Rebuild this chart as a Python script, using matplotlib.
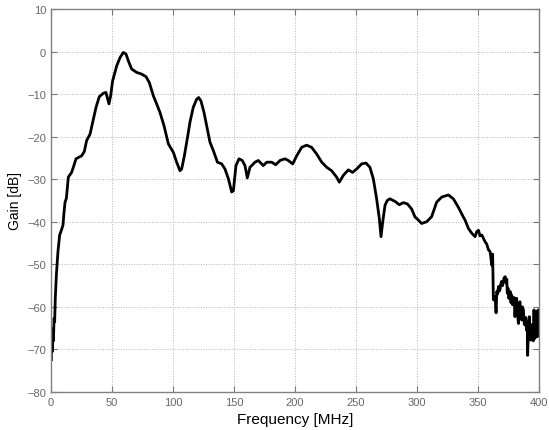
import matplotlib
matplotlib.use("Agg")
import matplotlib.pyplot as plt

freq_mhz = [0.3, 0.3, 1.0, 1.6, 2.0, 2.5, 3.0, 3.5, 4.4, 5.7, 7.1, 8.5, 9.8, 10.7, 11.5, 12.6,
            14.2, 16.9, 18.3, 20.5, 25.1, 27.3, 29.2, 32.0, 34.7, 36.9, 39.6, 42.9, 45.0,
            47.5, 48.9, 50.5, 53.8, 56.6, 59.3, 61.5, 63.4, 66.1, 70.2, 74.3, 77.9, 80.6,
            83.9, 86.6, 89.3, 92.6, 96.2, 100.3, 103.0, 105.7, 107.1, 109.3, 111.7, 113.9,
            116.6, 119.4, 121.0, 122.9, 125.4, 127.6, 130.3, 133.1, 136.4, 139.9, 142.6,
            145.4, 148.1, 149.5, 151.6, 154.1, 156.8, 159.0, 160.9, 163.1, 167.2, 169.9,
            174.0, 176.8, 180.9, 184.2, 187.7, 191.8, 194.5, 198.1, 201.4, 205.5, 209.5,
            213.6, 217.8, 221.9, 226.0, 230.0, 234.1, 236.3, 239.6, 243.7, 247.2, 250.5,
            254.6, 258.2, 261.4, 264.2, 266.9, 269.1, 270.5, 271.9, 273.8, 275.6, 277.8,
            281.9, 285.5, 288.8, 292.1, 295.6, 298.4, 299.7, 303.8, 307.9, 312.0, 316.1,
            320.2, 325.7, 329.8, 333.9, 338.0, 339.4, 342.2, 344.9, 347.6, 349.0, 350.4,
            351.6, 353.1, 355.8, 357.1, 358.6, 359.9, 361.3, 362.0, 362.6, 363.2, 364.0,
            364.8, 365.4, 366.0, 366.8, 367.4, 368.0, 368.7, 369.4, 370.2, 371.3, 372.3,
            373.0, 373.6, 374.0, 374.6, 375.2, 375.7, 376.4, 377.0, 377.6, 378.3, 379.0,
            379.6, 380.3, 381.0, 381.7, 382.4, 383.1, 383.8, 384.4, 385.1, 385.8, 386.5,
            387.2, 387.9, 388.5, 389.2, 389.9, 390.3, 390.7, 391.4, 392.1, 392.6, 393.2,
            394.0, 394.8, 395.3, 395.9, 396.3, 396.7, 397.4, 398.1, 398.5, 398.9, 399.3,
            399.7]
gain_db = [-72.4, -65.0, -70.5, -66.6, -68.0, -62.7, -63.5, -58.0, -52.5, -47.0, -43.1, -42.0, -40.8, -37.7, -35.4, -34.5,
           -29.5, -28.4, -27.2, -25.2, -24.5, -23.5, -20.9, -19.4, -15.9, -13.1, -10.6, -9.8, -9.6,
           -12.3, -10.4, -6.9, -3.4, -1.4, -0.2, -0.6, -2.2, -4.1, -4.9, -5.3, -5.9, -7.3,
           -10.4, -12.3, -14.3, -17.4, -21.7, -23.7, -26.0, -28.0, -27.6, -24.5, -20.5, -16.6,
           -13.1, -11.2, -10.8, -11.6, -14.3, -17.4, -21.3, -23.3, -26.0, -26.4, -27.6,
           -29.9, -33.0, -32.7, -26.8, -25.2, -25.6, -26.8, -29.7, -27.2, -26.0, -25.6,
           -26.8, -26.0, -26.0, -26.6, -25.6, -25.2, -25.6, -26.4, -24.5, -22.5, -22.0,
           -22.5, -24.1, -26.0, -27.2, -28.0, -29.5, -30.7, -29.1, -27.8, -28.4, -27.6,
           -26.4, -26.2, -27.2, -29.9, -34.6, -39.2, -43.5, -40.0, -36.1, -35.0, -34.6,
           -35.2, -36.0, -35.5, -35.8, -37.0, -38.9, -39.2, -40.4, -40.0, -38.8, -35.4,
           -34.2, -33.7, -34.6, -36.6, -38.9, -39.6, -41.6, -42.7, -43.5, -42.3, -42.0,
           -43.3, -43.1, -44.7, -45.2, -46.6, -47.0, -50.2, -47.6, -58.3, -58.4, -57.5,
           -61.4, -56.4, -57.0, -55.2, -56.3, -56.0, -54.6, -54.0, -55.0, -53.2, -52.9,
           -54.4, -53.5, -56.8, -55.6, -58.0, -57.6, -56.4, -59.0, -57.2, -59.5, -59.1,
           -57.8, -62.3, -58.6, -58.0, -61.5, -63.9, -59.5, -58.8, -62.0, -63.1, -60.0,
           -60.7, -64.0, -64.3, -62.5, -65.5, -63.5, -71.4, -64.0, -62.3, -66.0, -67.8,
           -64.2, -65.8, -68.0, -60.7, -66.5, -67.4, -63.0, -61.1, -66.6, -67.0, -60.7,
           -65.0]

x_ticks = [0, 50, 100, 150, 200, 250, 300, 350, 400]
y_ticks = [-80, -70, -60, -50, -40, -30, -20, -10, 0, 10]

plt.rcParams['font.family'] = ['Liberation Sans', 'DejaVu Sans']

fig = plt.figure(figsize=(5.49, 4.31), dpi=100)
ax = fig.add_axes([0.0929, 0.0882, 0.8889, 0.8886])

ax.plot(freq_mhz, gain_db, color='black', linewidth=2.0, solid_joinstyle='round')

ax.set_xlim(0, 400)
ax.set_ylim(-80, 10)
ax.set_xticks(x_ticks)
ax.set_yticks(y_ticks)
ax.grid(True, linestyle=':', color='#b4b4b4', linewidth=0.7)
ax.tick_params(direction='in', top=True, right=True, labelsize=8, labelcolor='#666666',
               color='#777777', length=4, width=0.8)
for s in ax.spines.values():
    s.set_color('#808080')
    s.set_linewidth(1.0)

ax.set_xlabel('Frequency [MHz]', fontsize=11, labelpad=4)
ax.set_ylabel('Gain [dB]', fontsize=10, labelpad=4)

fig.savefig('out.png', dpi=100)
